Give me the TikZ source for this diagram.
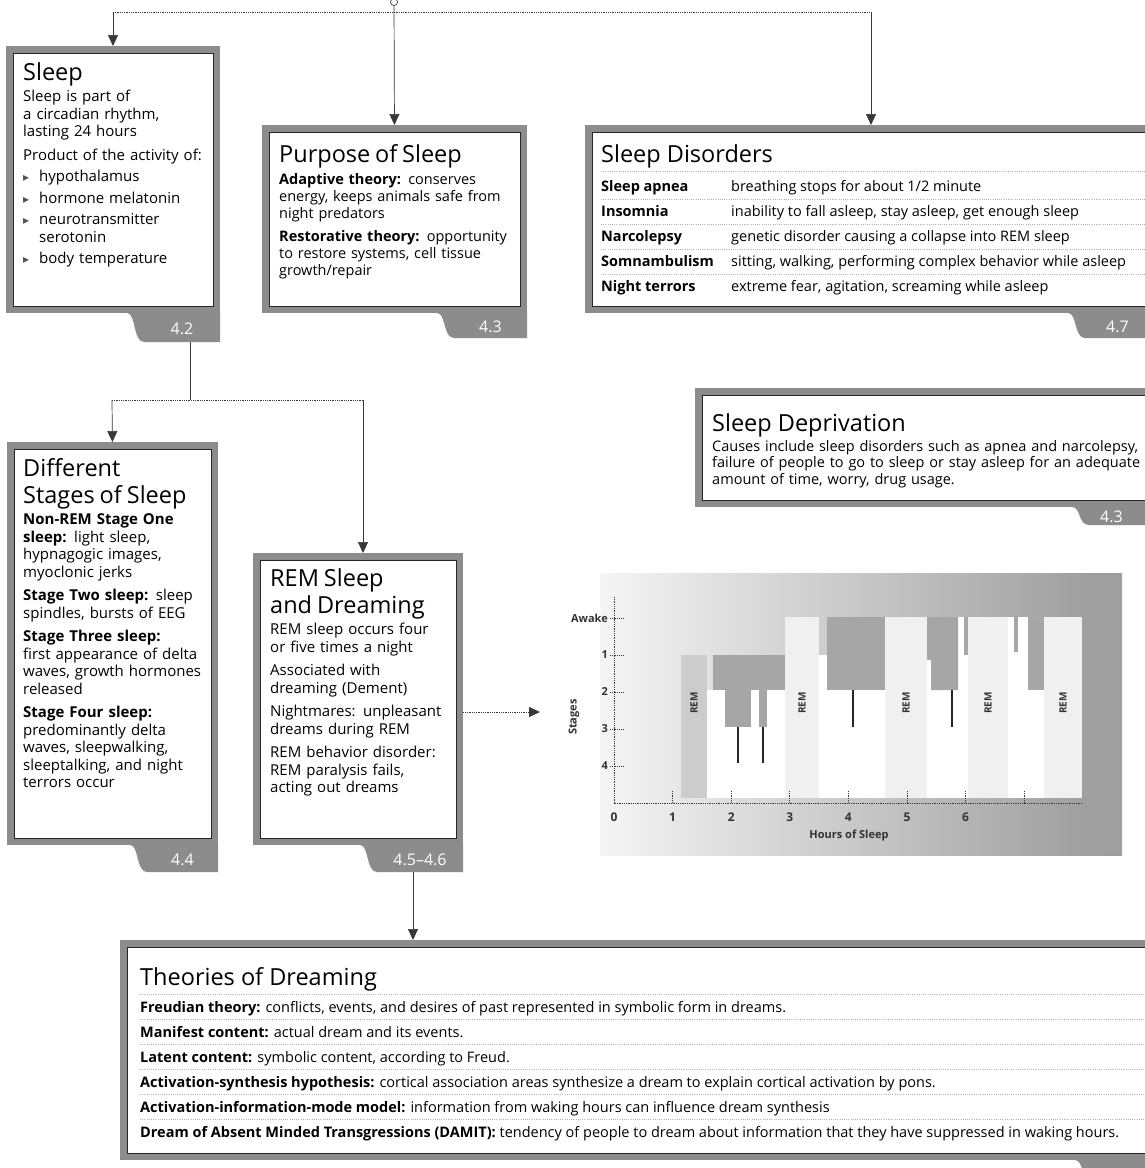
\documentclass[tikz,border=0pt]{standalone}
\usepackage{fontspec}
\setmainfont{Open Sans}
\newfontfamily\symfont{DejaVu Sans}
\usetikzlibrary{arrows.meta}
\pgfdeclarelayer{paper}
\pgfdeclarelayer{back}
\pgfsetlayers{paper,back,main}
\definecolor{framegray}{gray}{0.55}
\definecolor{inkgray}{gray}{0.22}
\newcommand\bodyfont{\fontsize{14.5}{17}\selectfont}
\newcommand\narrowfont{\fontsize{15}{17.5}\selectfont}
\newcommand\ttlfont{\fontsize{23.5}{27}\selectfont}
\newcommand\chartfont{\fontsize{11}{12}\selectfont\bfseries}
\newcommand\gap{\par\vspace{6pt}}
\newcommand\tri{\makebox[16pt][l]{{\symfont\fontsize{12}{12}\selectfont\color{gray!65!black}▸}}}
\newcommand\bul[1]{\par\vspace{4pt}\noindent\tri#1\par}
\newcommand\bulmore[1]{\par\noindent\hspace*{16pt}#1\par}
% framed panel: name, inner x1, y1, x2, y2
\newcommand\infopanel[5]{\node[panel, minimum width={#4-#2}, minimum height={#5-#3},
  anchor=north west] (#1) at (#2,#3) {};}
% tab under a panel: name, left x, top y, right x, bottom y, label
\newcommand\infotab[6]{%
  \fill[framegray] (#2,#3-1) -- (#2,#3) .. controls (#2+9,#3) and (#2+6,#5) .. (#2+17,#5)
    -- (#4,#5) -- (#4,#3-1) -- cycle;
  \node[tabtext] (#1) at ({(#2+17+#4)/2}, {(#3+#5)/2+1}) {#6};}
\begin{document}
\begin{tikzpicture}[x=1pt, y=-1pt,
  panel/.style={draw=black!85, line width=1pt, fill=white, inner sep=0pt, outer sep=0pt,
    preaction={draw=framegray, line width=14pt}},
  tabtext/.style={text=white, font=\fontsize{16}{16}\selectfont, inner sep=0pt},
  txt/.style={anchor=north west, inner sep=0pt, align=left, text width=#1, font=\bodyfont},
  ttl/.style={anchor=base west, inner sep=0pt, font=\ttlfont},
  row/.style={anchor=base west, inner sep=0pt, font=\bodyfont},
  link/.style={draw=inkgray, line width=0.7pt},
  dotline/.style={draw=inkgray, line width=0.9pt, dash pattern=on 0.9pt off 0.9pt},
  rowrule/.style={draw=gray!60, line width=0.8pt, dash pattern=on 1pt off 1.2pt},
  tip/.style={-{Triangle[width=10pt,length=11pt]}},
  chartlbl/.style={font=\chartfont, text=black!80, inner sep=0pt}]
\useasboundingbox (0,0) rectangle (1145,1168);
\begin{pgfonlayer}{paper}
  \fill[white] (0,0) rectangle (1145,1168);
\end{pgfonlayer}

% ---------- panels ----------
\infopanel{sleep}{13}{53}{213}{306}
\infotab{sleeptab}{127}{313}{220}{342}{4.2}
\node[txt=190, font=\narrowfont] (sleeptext) at (23,62) {%
  {\ttlfont Sleep\par}\vspace{4pt}
  Sleep is part of\\a circadian rhythm,\\lasting 24 hours\gap
  Product of the activity of:\par
  \bul{hypothalamus}\bul{hormone melatonin}\bul{neurotransmitter}\bulmore{serotonin}\bul{body temperature}};

\infopanel{purpose}{269}{132}{520}{306}
\infotab{purposetab}{437}{313}{527}{338}{4.3}
\node[txt=245] (purposetext) at (279,144) {%
  {\ttlfont Purpose of Sleep\par}\vspace{5pt}
  \textbf{Adaptive theory:} conserves\\energy, keeps animals safe from\\night predators\gap
  \textbf{Restorative theory:} opportunity\\to restore systems, cell tissue\\growth/repair};

\infopanel{disorders}{592}{132}{1158}{306}
\infotab{disorderstab}{1068}{313}{1170}{338}{}
\node[tabtext, anchor=west] (disorderslbl) at (1106,327) {4.7};
\node[ttl] (disorderstitle) at (601,162) {Sleep Disorders};
\foreach \y in {171,199,224,249,274}
  \draw[rowrule] (601,\y) -- (1150,\y);
\foreach \i/\term/\desc in {
    1/{Sleep apnea}/{breathing stops for about 1/2 minute},
    2/{Insomnia}/{inability to fall asleep, stay asleep, get enough sleep},
    3/{Narcolepsy}/{genetic disorder causing a collapse into REM sleep},
    4/{Somnambulism}/{sitting, walking, performing complex behavior while asleep},
    5/{Night terrors}/{extreme fear, agitation, screaming while asleep}} {
  \pgfmathsetmacro\yy{191+25*(\i-1)}
  \node[row, font=\bodyfont\bfseries] (dterm\i) at (601,\yy) {\term};
  \node[row] (ddesc\i) at (731,\yy) {\desc};
}

\infopanel{deprivation}{702}{395}{1158}{500}
\infotab{deprivationtab}{1072}{507}{1170}{525}{}
\node[tabtext, anchor=west] (deprivationlbl) at (1100,517) {4.3};
\node[ttl] (deprivationtitle) at (712,431) {Sleep Deprivation};
\node[txt=430, font=\fontsize{14.5}{16.5}\selectfont] (deprivationtext) at (712,440) {%
  Causes include sleep disorders such as apnea and narcolepsy,\\
  failure of people to go to sleep or stay asleep for an adequate\\
  amount of time, worry, drug usage.};

\infopanel{stages}{14}{449}{211}{838}
\infotab{stagestab}{130}{845}{218}{872}{4.4}
\node[txt=195, font=\narrowfont] (stagestext) at (23,458) {%
  {\ttlfont Different\\Stages of Sleep\par}\vspace{4pt}
  \textbf{Non-REM Stage One}\\\textbf{sleep:} light sleep,\\hypnagogic images,\\myoclonic jerks\gap
  \textbf{Stage Two sleep:} sleep\\spindles, bursts of EEG\gap
  \textbf{Stage Three sleep:}\\first appearance of delta\\waves, growth hormones\\released\gap
  \textbf{Stage Four sleep:}\\predominantly delta\\waves, sleepwalking,\\sleeptalking, and night\\terrors occur};

\infopanel{rem}{260}{560}{456}{838}
\infotab{remtab}{360}{845}{463}{872}{4.5–4.6}
\node[txt=190, font=\narrowfont] (remtext) at (270,568) {%
  {\ttlfont REM Sleep\\and Dreaming\par}\vspace{4pt}
  REM sleep occurs four\\or five times a night\gap
  Associated with\\dreaming (Dement)\gap
  Nightmares: unpleasant\\dreams during REM\gap
  REM behavior disorder:\\REM paralysis fails,\\acting out dreams};

\infopanel{theories}{127}{947}{1158}{1153}
\infotab{theoriestab}{1075}{1160}{1170}{1182}{}
\node[ttl] (theoriestitle) at (140,985) {Theories of Dreaming};
\foreach \y in {994,1019,1044,1069,1094,1119}
  \draw[rowrule] (140,\y) -- (1150,\y);
\foreach \i/\line in {
    1/{\textbf{Freudian theory:} conflicts, events, and desires of past represented in symbolic form in dreams.},
    2/{\textbf{Manifest content:} actual dream and its events.},
    3/{\textbf{Latent content:} symbolic content, according to Freud.},
    4/{\textbf{Activation-synthesis hypothesis:} cortical association areas synthesize a dream to explain cortical activation by pons.},
    5/{\textbf{Activation-information-mode model:} information from waking hours can influence dream synthesis},
    6/{\textbf{Dream of Absent Minded Transgressions (DAMIT):} tendency of people to dream about information that they have suppressed in waking hours.}} {
  \pgfmathsetmacro\yy{1012+25*(\i-1)}
  \node[row] (theory\i) at (140,\yy) {\line};
}

% ---------- sleep-cycle chart ----------
\shade[left color=gray!8, right color=gray!80] (600,573) rectangle (1122,855);
\fill[gray!75] (1082,573) rectangle (1122,855);
% REM periods
\fill[gray!40] (681,655) rectangle (707,798);
\foreach \a/\b in {785/819, 885/927, 968/1008, 1044/1082}
  \fill[gray!12] (\a,617) rectangle (\b,798);
% deeper sleep under the curve
\fill[white] (707,690) rectangle (785,798);
\fill[white] (819,655) rectangle (827,798);
\fill[white] (827,690) rectangle (885,798);
\fill[white] (927,660) rectangle (958,798);
\fill[white] (958,617) rectangle (968,798);
\fill[white] (1008,617) rectangle (1028,798);
\fill[white] (1028,690) rectangle (1044,798);
% lighter-sleep intrusions
\fill[gray!70] (713,655) rectangle (785,690);
\fill[gray!70] (725,690) rectangle (751,727);
\fill[gray!70] (759,690) rectangle (767,727);
\fill[gray!70] (827,617) rectangle (885,690);
\fill[gray!70] (927,617) -- (958,617) -- (958,690) -- (931,690) -- (931,660) -- (927,660) -- cycle;
\fill[gray!70] (964,617) rectangle (968,655);
\fill[gray!70] (1014,617) rectangle (1018,652);
\fill[gray!70] (1028,617) rectangle (1044,690);
\foreach \x/\ya/\yb in {738/727/763, 763/727/763, 853/690/727, 952/690/727}
  \draw[gray!30!black, line width=2.5pt] (\x,\ya) -- (\x,\yb);
% REM labels
\foreach \x [count=\k] in {694,802,906,988,1063}
  \node[chartlbl, rotate=90, font=\fontsize{10}{10}\selectfont\bfseries] (remlbl\k) at (\x,703) {REM};
% axes
\draw[dotline, line width=0.8pt] (614,597) -- (614,803) -- (1082,803);
\foreach \y/\t [count=\k] in {618/Awake, 655/1, 692/2, 729/3, 766/4} {
  \node[chartlbl, anchor=east] (stage\k) at (608,\y) {\t};
  \draw[dotline, line width=0.7pt] (610,\y) -- (624,\y);
}
\foreach \h in {1,...,7}
  \draw[dotline, line width=0.7pt] ({614+58.6*\h},791) -- ({614+58.6*\h},803);
\foreach \h in {0,...,6}
  \node[chartlbl, font=\fontsize{12}{12}\selectfont\bfseries] (hour\h) at ({614+58.6*\h},817) {\h};
\node[chartlbl] (hourslbl) at (849,836) {Hours of Sleep};
\node[chartlbl, rotate=90] (stageslbl) at (574,717) {Stages};
\coordinate (chartin) at (540,712);

% ---------- connectors ----------
\begin{pgfonlayer}{back}
  \node[circle, draw=inkgray, fill=white, line width=0.7pt, minimum size=7pt, inner sep=0pt] (origin) at (394,2) {};
  \coordinate (hubL) at (113,12);
  \coordinate (hubR) at (871,12);
  \draw[dotline] (hubL) -- (hubR);
  \draw[link, tip, shorten >=7pt] (origin) -- (purpose.north);
  \draw[link, tip, shorten >=7pt] (hubL) -- (sleep.north);
  \draw[link, tip, shorten >=7pt] (hubR) -- (hubR |- disorders.north);
  \coordinate (sleepout) at (190,342);
  \coordinate (fork) at (190,400);
  \coordinate (forkL) at (112,400);
  \coordinate (forkR) at (363,400);
  \draw[link] (sleepout) -- (fork);
  \draw[dotline] (forkL) -- (forkR);
  \draw[link, tip, shorten >=7pt] (forkL) -- (stages.north);
  \draw[link, tip, shorten >=7pt] (forkR) -- (forkR |- rem.north);
  \draw[dotline, tip] (rem.east |- chartin) -- (chartin);
  \coordinate (remout) at (413,872);
  \draw[link, tip, shorten >=7pt] (remout) -- (remout |- theories.north);
\end{pgfonlayer}
\end{tikzpicture}
\end{document}
